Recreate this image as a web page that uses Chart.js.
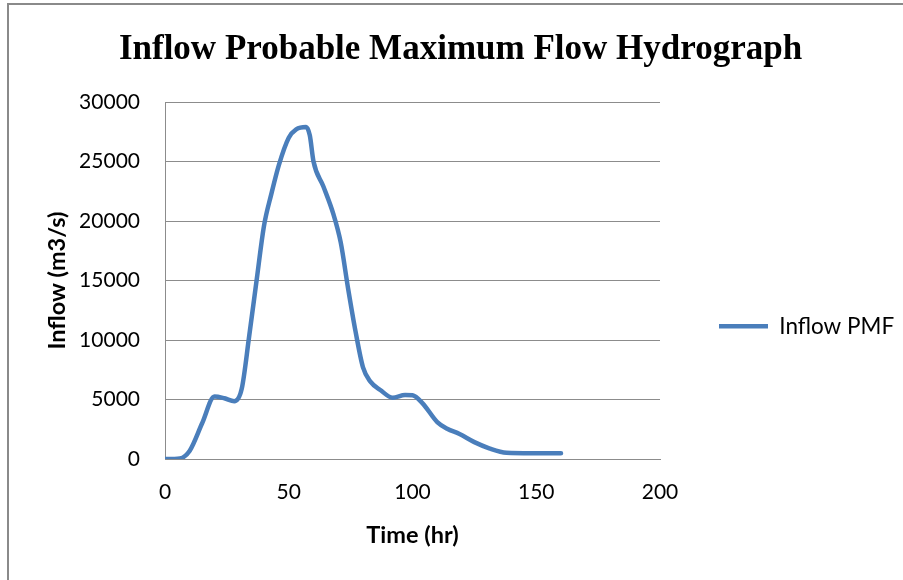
<!DOCTYPE html>
<html>
<head>
<meta charset="utf-8">
<script src="https://cdn.jsdelivr.net/npm/chart.js@4.4.1/dist/chart.umd.min.js"></script>
<style>
  html, body { margin: 0; padding: 0; background: #fff; }
  #wrap { position: relative; width: 903px; height: 580px; }
  #frame {
    position: absolute; left: 7px; top: 3px; right: -4px; bottom: -4px;
    border-left: 2px solid #8a8a8a; border-top: 2px solid #8a8a8a;
    pointer-events: none;
  }
  canvas { position: absolute; left: 0; top: 0; }
</style>
</head>
<body>
<div id="wrap">
  <canvas id="chart" width="903" height="580"></canvas>
  <div id="frame"></div>
</div>
<script>
// hours vs inflow (m3/s)
const hours = [0, 6, 10, 15, 20, 24, 28, 31, 34, 37, 40, 43, 46, 50, 53, 57, 58.5, 60,
  64, 68, 71, 74, 77, 80, 83, 87, 92, 97, 100, 104, 110, 114, 119, 125, 131, 138, 148, 160];
const inflow = [0, 50, 700, 3000, 5250, 5100, 4850, 5900, 10300, 15000, 19600, 22300, 24700, 27000, 27700, 27900, 27200, 25000,
  22900, 20600, 18200, 14300, 10700, 7700, 6500, 5800, 5150, 5380, 5350, 4700, 3100, 2550, 2100, 1420, 900, 520, 480, 480];

const TITLE = "Inflow Probable Maximum Flow Hydrograph";
const SERIES_LABEL = "Inflow PMF";
const X_TITLE = "Time (hr)";
const Y_TITLE = "Inflow (m3/s)";

const LINE_BLUE = "#4a7ebb";
const GRID_GREY = "#8c8c8c";
const TEXT = "#000";
const SANS = "Lato, 'Open Sans', sans-serif";
const AXIS_TITLE_SIZE = 23.5;

// plot box we want: left 165, top 102, right 660, bottom 459
const PLOT_LEFT = 165, PLOT_RIGHT = 660, PLOT_BOTTOM = 459;
const LEGEND_PAD = 10;
const LEGEND_LINE_W = 49;
const LEGEND_FONT = 22.5;
const LEGEND_X = 719; // where the legend line should start

// chart.js makes a right legend padding + item + 10 wide; size the right padding so the plot ends at PLOT_RIGHT
const measure = document.createElement("canvas").getContext("2d");
measure.font = `${LEGEND_FONT}px ${SANS}`;
const legendW = 2 * LEGEND_PAD + LEGEND_LINE_W + LEGEND_FONT / 2 + measure.measureText(SERIES_LABEL).width;
const rightPad = (903 - PLOT_RIGHT) - legendW;
// extra left padding so the full-width title sits a bit right of centre, like the original
const leftPad = rightPad + 18;

// the legend box starts at the plot's right edge; slide it over to where Excel put the key
const legendNudge = {
  id: "legendNudge",
  afterLayout(chart) {
    const lg = chart.legend;
    const dx = LEGEND_X - (lg.left + LEGEND_PAD);
    lg.left += dx;
    lg.right += dx;
  },
};

const points = hours.map((h, i) => ({ x: h, y: inflow[i] }));

new Chart(document.getElementById("chart"), {
  type: "line",
  data: {
    datasets: [{
      label: SERIES_LABEL,
      data: points,
      borderColor: LINE_BLUE,
      backgroundColor: LINE_BLUE,
      borderWidth: 4.5,
      borderCapStyle: "round",
      borderJoinStyle: "round",
      pointRadius: 0,
      cubicInterpolationMode: "monotone",
      fill: false,
    }],
  },
  plugins: [legendNudge],
  options: {
    responsive: false,
    animation: false,
    layout: { padding: { left: leftPad, top: 0, bottom: 0, right: rightPad } },
    plugins: {
      tooltip: { enabled: false },
      title: {
        display: true,
        text: TITLE,
        color: "#000",
        font: { family: "'Liberation Serif', 'Times New Roman', serif", size: 35, weight: "bold", lineHeight: 1.2 },
        padding: { top: 29, bottom: 31 },
      },
      legend: {
        position: "right",
        align: "start",
        fullSize: false,
        // empty legend title only used to push the key down to mid height
        title: { display: true, text: "", font: { size: 10, lineHeight: 1 }, padding: { top: 193, bottom: 0 } },
        labels: {
          usePointStyle: true,
          pointStyle: "line",
          pointStyleWidth: LEGEND_LINE_W,
          padding: LEGEND_PAD,
          color: TEXT,
          font: { family: SANS, size: LEGEND_FONT },
        },
      },
    },
    scales: {
      x: {
        type: "linear",
        min: 0,
        max: 200,
        ticks: { stepSize: 50, padding: 21, color: TEXT, font: { family: SANS, size: 21 }, callback: (v) => String(v) },
        grid: { display: false, drawTicks: false },
        border: { display: true, color: GRID_GREY, width: 1 },
        title: {
          display: true, text: X_TITLE, color: TEXT,
          font: { family: SANS, size: AXIS_TITLE_SIZE, weight: "bold" },
          padding: { top: 0, bottom: 45 - AXIS_TITLE_SIZE * 0.6 },
        },
        afterFit: (scale) => { scale.height = 580 - PLOT_BOTTOM; },
      },
      y: {
        min: 0,
        max: 30000,
        ticks: { stepSize: 5000, padding: 25, color: TEXT, font: { family: SANS, size: 21 }, callback: (v) => String(v) },
        grid: { color: GRID_GREY, lineWidth: 1, drawTicks: false },
        border: { display: true, color: GRID_GREY, width: 1 },
        title: {
          display: true, text: Y_TITLE, color: TEXT,
          font: { family: SANS, size: AXIS_TITLE_SIZE, weight: "bold" },
          padding: { top: 57 - AXIS_TITLE_SIZE * 0.6 - leftPad, bottom: 0 },
        },
        afterFit: (scale) => { scale.width = PLOT_LEFT - leftPad; },
      },
    },
  },
});
</script>
</body>
</html>
